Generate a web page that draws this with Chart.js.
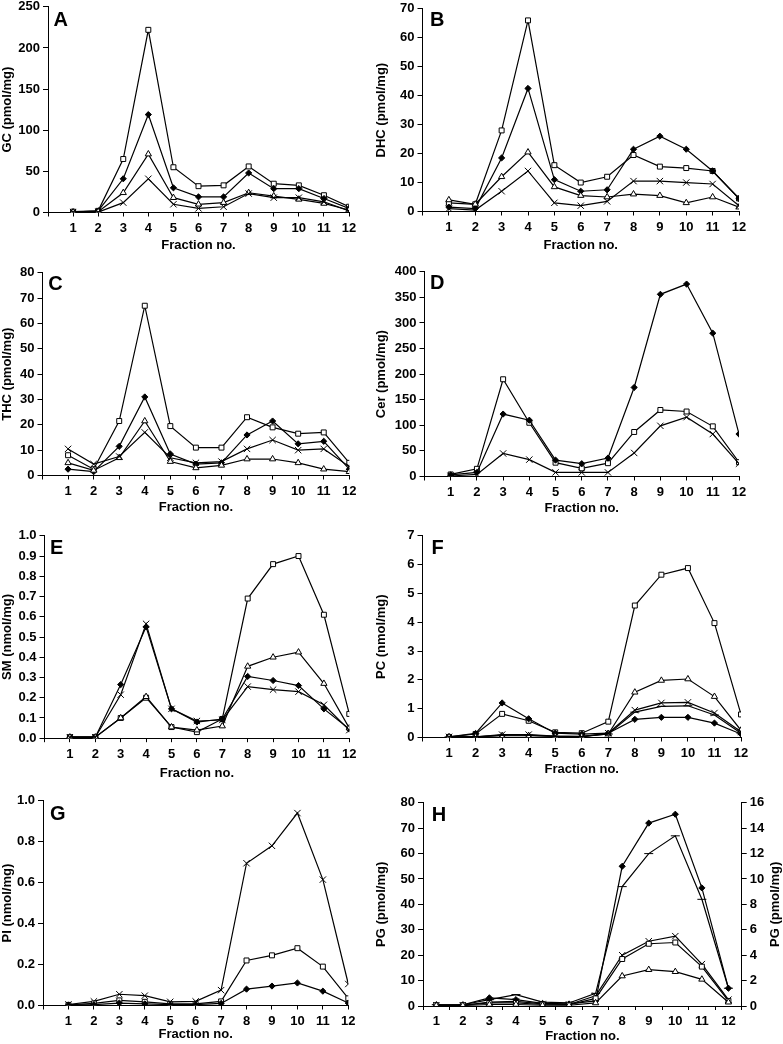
<!DOCTYPE html>
<html>
<head>
<meta charset="utf-8">
<script src="https://cdn.jsdelivr.net/npm/chart.js@4.4.1/dist/chart.umd.min.js"></script>
<style>
  body { margin: 0; background: #fff; width: 783px; height: 1044px; position: relative; overflow: hidden; }
  canvas { position: absolute; }
</style>
</head>
<body>
<canvas id="A"></canvas>
<canvas id="B"></canvas>
<canvas id="C"></canvas>
<canvas id="D"></canvas>
<canvas id="E"></canvas>
<canvas id="F"></canvas>
<canvas id="G"></canvas>
<canvas id="H"></canvas>
<script>
// fraction numbers (x axis)
const fractions = [1, 2, 3, 4, 5, 6, 7, 8, 9, 10, 11, 12];

// A - GC (pmol/mg)
const gcSquare   = [1, 2, 65, 222, 55, 32, 33, 56, 35, 33, 21, 7];
const gcDiamond  = [0.5, 2, 41, 119, 30, 19, 19, 48, 29, 29, 17, 5];
const gcTriangle = [0.5, 1, 24, 71, 18, 10, 12, 24, 20, 16, 11, 3];
const gcCross    = [0.5, 0.5, 12, 41, 10, 5, 7, 23, 18, 18, 13, 2];

// B - DHC (pmol/mg)
const dhcSquare   = [3, 2.5, 28, 66, 16, 10, 12, 19.5, 15.5, 15, 14, 4.5];
const dhcDiamond  = [1.5, 1, 18.5, 42.5, 11, 7, 7.5, 21.5, 26, 21.5, 14, 4.5];
const dhcTriangle = [4, 2.5, 12, 20.5, 8.5, 5.5, 5, 6, 5.5, 3, 5, 1.5];
const dhcCross    = [1, 0.5, 7, 14, 3, 2, 3.5, 10.5, 10.5, 10, 9.5, 2];

// C - THC (pmol/mg)
const thcSquare   = [8, 2.5, 21.5, 67, 19.5, 11, 11, 23, 19, 16.5, 17, 5];
const thcDiamond  = [2.5, 1.5, 11.5, 31, 8.5, 4.5, 5, 16, 21.5, 12.5, 13.5, 2.5];
const thcTriangle = [5, 2, 7, 21.5, 5.5, 3, 4, 6.5, 6.5, 5, 2.5, 1.5];
const thcCross    = [10.5, 4.5, 7.5, 17, 7, 5, 5.5, 10.5, 14, 10, 10.5, 3.5];

// D - Cer (pmol/mg)
const cerSquare  = [4, 15, 190, 105, 27, 16, 26, 87, 130, 127, 98, 28];
const cerDiamond = [3, 8, 122, 110, 32, 25, 36, 174, 356, 376, 280, 83];
const cerCross   = [1, 4, 45, 33, 8, 8, 8, 46, 99, 116, 83, 25];

// E - SM (nmol/mg)
const smSquare   = [0.005, 0.005, 0.1, 0.2, 0.055, 0.03, 0.095, 0.69, 0.86, 0.9, 0.61, 0.12];
const smDiamond  = [0.005, 0.005, 0.265, 0.55, 0.145, 0.08, 0.095, 0.305, 0.285, 0.26, 0.145, 0.045];
const smTriangle = [0.005, 0.005, 0.1, 0.205, 0.055, 0.04, 0.06, 0.355, 0.4, 0.425, 0.27, 0.05];
const smCross    = [0.005, 0.005, 0.215, 0.565, 0.145, 0.085, 0.09, 0.255, 0.24, 0.23, 0.165, 0.04];

// F - PC (nmol/mg)
const pcSquare   = [0.02, 0.12, 0.82, 0.58, 0.18, 0.15, 0.55, 4.58, 5.65, 5.88, 3.97, 0.8];
const pcDiamond  = [0.02, 0.14, 1.2, 0.65, 0.15, 0.12, 0.15, 0.63, 0.7, 0.7, 0.5, 0.12];
const pcTriangle = [0.02, 0.02, 0.06, 0.06, 0.04, 0.04, 0.12, 1.57, 1.98, 2.03, 1.42, 0.25];
const pcCross    = [0.02, 0.02, 0.1, 0.1, 0.05, 0.03, 0.15, 0.95, 1.2, 1.22, 0.85, 0.2];
const pcDash     = [0.02, 0.02, 0.08, 0.08, 0.04, 0.03, 0.12, 0.88, 1.08, 1.1, 0.78, 0.15];

// G - PI (nmol/mg)
const piCross   = [0.005, 0.02, 0.055, 0.048, 0.018, 0.02, 0.075, 0.695, 0.78, 0.94, 0.615, 0.105];
const piSquare  = [0.003, 0.01, 0.025, 0.018, 0.008, 0.008, 0.02, 0.22, 0.245, 0.28, 0.19, 0.035];
const piDiamond = [0.002, 0.004, 0.012, 0.008, 0.004, 0.004, 0.01, 0.08, 0.095, 0.11, 0.07, 0.012];

// H - PG (pmol/mg), left axis; pgDash read on the right axis
const pgDiamond  = [0.5, 0.5, 3.2, 2.5, 1, 0.8, 2, 55, 72, 75.5, 46.5, 7];
const pgCross    = [0.3, 0.3, 1.5, 1.8, 0.8, 0.6, 4, 20, 25.5, 27.5, 16.5, 2.5];
const pgSquare   = [0.3, 0.3, 1.2, 1.2, 0.6, 0.5, 3, 18.5, 24.5, 25, 15.5, 2];
const pgTriangle = [0.2, 0.2, 0.6, 0.6, 0.3, 0.3, 1.2, 11.8, 14.3, 13.5, 10.5, 1.5];
const pgDash     = [0.1, 0.1, 0.5, 0.9, 0.3, 0.24, 1.0, 9.4, 12, 13.4, 8.4, 1.4];

const FONT = "'Liberation Sans', Arial, sans-serif";
Chart.defaults.font.family = FONT;
Chart.defaults.font.size = 13;
Chart.defaults.font.weight = 'bold';
Chart.defaults.color = '#000';

const markers = {
  square:   { pointStyle: 'rect', pointRadius: 3.5, pointBackgroundColor: '#fff' },
  diamond:  { pointStyle: 'rectRot', pointRadius: 3.1, pointBackgroundColor: '#000' },
  triangle: { pointStyle: 'triangle', pointRadius: 3.6, pointBackgroundColor: '#fff' },
  cross:    { pointStyle: 'crossRot', pointRadius: 4.5 },
  dash:     { pointStyle: 'line', pointRadius: 4.5 }
};

function series(vals, mk, linear, axis) {
  return Object.assign({
    data: linear ? vals.map((v, i) => ({ x: fractions[i], y: v })) : vals,
    borderColor: '#000', borderWidth: 1.2,
    pointBorderColor: '#000', pointBorderWidth: 1,
    tension: 0, fill: false, yAxisID: axis || 'y'
  }, markers[mk]);
}

// panel letter + right-hand title
const decorations = {
  id: 'decorations',
  afterDraw(chart, args, o) {
    const { ctx, chartArea } = chart;
    ctx.save();
    ctx.fillStyle = '#000';
    ctx.font = 'bold 20px ' + FONT;
    ctx.textBaseline = 'alphabetic';
    ctx.fillText(o.letter, chartArea.left + o.dx, chartArea.top + o.dy);
    if (o.rightTitle) {
      ctx.font = 'bold 13px ' + FONT;
      ctx.textAlign = 'center';
      ctx.textBaseline = 'middle';
      ctx.translate(chart.width - 7.5, (chartArea.top + chartArea.bottom) / 2);
      ctx.rotate(-Math.PI / 2);
      ctx.fillText(o.rightTitle, 0, 0);
    }
    ctx.restore();
  }
};

function makePanel(p) {
  const cv = document.getElementById(p.id);
  const canvasLeft = p.col === 0 ? 0 : 374;
  const canvasRight = p.col === 0 ? 370 : 783;
  const padTop = 10;
  const [left, top, right, bottom] = p.area;
  const yW = left - canvasLeft;
  const rightW = p.rightAxis ? canvasRight - right : 0;
  const padRight = p.rightAxis ? 0 : canvasRight - right;
  const canvasTop = top - padTop;
  const w = canvasRight - canvasLeft;
  const h = Math.round(bottom + p.xH - canvasTop);
  cv.width = w; cv.height = h;
  cv.style.left = canvasLeft + 'px';
  cv.style.top = canvasTop + 'px';

  const linear = !p.category;
  const xTicks = { autoSkip: false, maxRotation: 0, minRotation: 0, padding: 4 };
  if (linear) {
    xTicks.stepSize = 1;
    xTicks.callback = v => v === 0 ? '' : v;
  }
  const xScale = {
    type: linear ? 'linear' : 'category',
    offset: !linear,
    ticks: xTicks,
    grid: { drawOnChartArea: false, drawTicks: true, tickLength: 4, color: '#000', offset: !linear },
    border: { display: true, color: '#000', width: 1 },
    title: { display: true, text: 'Fraction no.', padding: 0 },
    afterFit: s => { s.height = p.xH; }
  };
  if (linear) { xScale.min = 0; xScale.max = 12; }

  const yScale = {
    min: 0, max: p.yMax,
    ticks: { stepSize: p.yStep, padding: 3, callback: v => p.dec ? v.toFixed(p.dec) : v },
    grid: { drawOnChartArea: false, drawTicks: true, tickLength: 5, color: '#000' },
    border: { display: true, color: '#000', width: 1 },
    title: { display: true, text: p.title, padding: 0 },
    afterFit: s => { s.width = yW; }
  };
  const scales = { x: xScale, y: yScale };
  if (p.rightAxis) {
    scales.y1 = {
      position: 'right', min: 0, max: p.rightAxis.max,
      ticks: { stepSize: p.rightAxis.step, padding: 3 },
      grid: { drawOnChartArea: false, drawTicks: true, tickLength: 5, color: '#000' },
      border: { display: true, color: '#000', width: 1 },
      afterFit: s => { s.width = rightW; }
    };
  }

  const data = { datasets: p.datasets.map(d => series(d[0], d[1], linear, d[2])) };
  if (!linear) data.labels = fractions.map(String);

  new Chart(cv, {
    type: 'line',
    data: data,
    options: {
      responsive: false, animation: false, devicePixelRatio: 1,
      layout: { padding: { top: padTop, right: padRight, left: 0, bottom: 0 } },
      scales: scales,
      plugins: {
        legend: { display: false }, tooltip: { enabled: false },
        decorations: { letter: p.id, dx: p.dx, dy: p.dy, rightTitle: p.rightTitle }
      }
    },
    plugins: [decorations]
  });
}

const panels = [
  { id: 'A', col: 0, area: [48, 5.7, 349, 211.7], xH: 40.5, yMax: 250, yStep: 50, title: 'GC (pmol/mg)', dx: 5.5, dy: 19.3,
    datasets: [[gcCross, 'cross'], [gcTriangle, 'triangle'], [gcDiamond, 'diamond'], [gcSquare, 'square']] },
  { id: 'B', col: 1, area: [422.5, 7.7, 739, 210.7], xH: 41.5, yMax: 70, yStep: 10, title: 'DHC (pmol/mg)', dx: 7.5, dy: 17.3,
    datasets: [[dhcCross, 'cross'], [dhcTriangle, 'triangle'], [dhcDiamond, 'diamond'], [dhcSquare, 'square']] },
  { id: 'C', col: 0, area: [42.5, 272.3, 349.3, 476], xH: 39.5, yMax: 80, yStep: 10, title: 'THC (pmol/mg)', dx: 5.8, dy: 17,
    datasets: [[thcCross, 'cross'], [thcTriangle, 'triangle'], [thcDiamond, 'diamond'], [thcSquare, 'square']] },
  { id: 'D', col: 1, area: [424.5, 270.7, 739, 476], xH: 39.5, yMax: 400, yStep: 50, title: 'Cer (pmol/mg)', dx: 5.5, dy: 17.6,
    datasets: [[cerCross, 'cross'], [cerDiamond, 'diamond'], [cerSquare, 'square']] },
  { id: 'E', col: 0, area: [44.5, 535, 349.3, 737.7], xH: 42.8, yMax: 1, yStep: 0.1, dec: 1, title: 'SM (nmol/mg)', dx: 5.5, dy: 18,
    datasets: [[smCross, 'cross'], [smTriangle, 'triangle'], [smDiamond, 'diamond'], [smSquare, 'square']] },
  { id: 'F', col: 1, area: [422.5, 535, 741, 737.7], xH: 39.5, yMax: 7, yStep: 1, title: 'PC (nmol/mg)', dx: 9, dy: 18,
    datasets: [[pcDash, 'dash'], [pcCross, 'cross'], [pcTriangle, 'triangle'], [pcDiamond, 'diamond'], [pcSquare, 'square']] },
  { id: 'G', col: 0, area: [43, 800, 348.3, 1005.7], xH: 36.5, yMax: 1, yStep: 0.2, dec: 1, title: 'PI (nmol/mg)', dx: 7, dy: 19,
    datasets: [[piDiamond, 'diamond'], [piSquare, 'square'], [piCross, 'cross']] },
  { id: 'H', col: 1, category: true, area: [423, 801.7, 741.7, 1006], xH: 38, yMax: 80, yStep: 10, title: 'PG (pmol/mg)', dx: 8.7, dy: 18,
    rightAxis: { max: 16, step: 2 }, rightTitle: 'PG (pmol/mg)',
    datasets: [[pgTriangle, 'triangle'], [pgSquare, 'square'], [pgCross, 'cross'], [pgDash, 'dash', 'y1'], [pgDiamond, 'diamond']] }
];

panels.forEach(makePanel);
</script>
</body>
</html>
